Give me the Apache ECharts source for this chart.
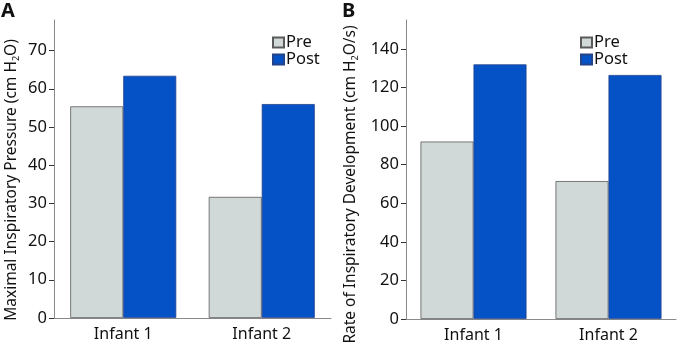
<!DOCTYPE html>
<html>
<head>
<meta charset="utf-8">
<script src="https://cdn.jsdelivr.net/npm/echarts@6/dist/echarts.min.js"></script>
<style>
  html, body { margin: 0; padding: 0; background: #fff; }
  #chart { width: 682px; height: 346px; }
</style>
</head>
<body>
<div id="chart"></div>
<script>
// data
const infants = ['Infant 1', 'Infant 2'];
const pressurePre = [55.4, 31.7];
const pressurePost = [63.4, 56.0];
const ratePre = [92, 71.5];
const ratePost = [132, 126.5];
const pressureTicks = [0, 10, 20, 30, 40, 50, 60, 70];
const rateTicks = [0, 20, 40, 60, 80, 100, 120, 140];

const FONT = 'Noto Sans';
const preColor = '#d0d8d8';
const postColor = '#0452c6';
const axisGrey = '#8a8a8a';

function xAxisFor(gridIndex) {
    return {
        type: 'category',
        gridIndex: gridIndex,
        data: infants,
        axisLine: {lineStyle: {color: axisGrey, width: 1}},
        axisTick: {alignWithLabel: true, length: 8, lineStyle: {color: '#333'}},
        axisLabel: {color: '#111', fontSize: 16, fontFamily: FONT, margin: 8}
    };
}

function yAxisFor(gridIndex, max, interval, ticks, name, gap, pad) {
    return {
        type: 'value',
        gridIndex: gridIndex,
        min: 0,
        max: max,
        interval: interval,
        name: name,
        nameLocation: 'middle',
        nameGap: gap,
        nameMoveOverlap: false,
        nameTextStyle: {
            fontSize: 15.5, fontFamily: FONT, color: '#111', lineHeight: 18,
            padding: [0, pad, 0, 0],
            rich: {sub: {fontSize: 9, fontFamily: FONT, color: '#111', lineHeight: 12, verticalAlign: 'bottom'}}
        },
        splitLine: {show: false},
        axisLine: {show: true, lineStyle: {color: axisGrey, width: 1}},
        axisTick: {show: true, length: 5, customValues: ticks, lineStyle: {color: '#333'}},
        axisLabel: {fontSize: 16.5, fontFamily: FONT, color: '#111', margin: 7, customValues: ticks}
    };
}

function barSeries(name, data, axisIndex, color, border) {
    return {
        name: name,
        type: 'bar',
        xAxisIndex: axisIndex,
        yAxisIndex: axisIndex,
        data: data,
        barWidth: 53,
        barGap: '0%',
        itemStyle: {color: color, borderColor: border, borderWidth: 0.8},
        emphasis: {disabled: true}
    };
}

function legendAt(left) {
    return {
        orient: 'vertical',
        left: left,
        top: 34,
        itemWidth: 11,
        itemHeight: 10,
        itemGap: 0,
        padding: 0,
        icon: 'rect',
        selectedMode: false,
        textStyle: {fontSize: 16.5, fontFamily: FONT, color: '#111', lineHeight: 14, padding: [0, 0, 0, -3]},
        data: ['Pre', 'Post']
    };
}

const chart = echarts.init(document.getElementById('chart'));
chart.setOption({
    animation: false,
    title: [
        {text: 'A', left: 1, top: 1, padding: 0, textStyle: {fontSize: 20, fontWeight: 'bold', fontFamily: FONT, color: '#111'}},
        {text: 'B', left: 342, top: 1, padding: 0, textStyle: {fontSize: 20, fontWeight: 'bold', fontFamily: FONT, color: '#111'}}
    ],
    legend: [legendAt(272), legendAt(580)],
    grid: [
        {left: 54, top: 20, width: 277, height: 298, outerBoundsMode: 'none'},
        {left: 406, top: 20, width: 270, height: 299, outerBoundsMode: 'none'}
    ],
    xAxis: [xAxisFor(0), xAxisFor(1)],
    yAxis: [
        yAxisFor(0, 78, 10, pressureTicks, 'Maximal Inspiratory Pressure (cm H{sub|2}O)', 33, 22),
        yAxisFor(1, 155, 20, rateTicks, 'Rate of Inspiratory Development (cm H{sub|2}O/s)', 46, 30)
    ],
    series: [
        barSeries('Pre', pressurePre, 0, preColor, '#5a5a5a'),
        barSeries('Post', pressurePost, 0, postColor, '#23438a'),
        barSeries('Pre', ratePre, 1, preColor, '#5a5a5a'),
        barSeries('Post', ratePost, 1, postColor, '#23438a')
    ]
});
</script>
</body>
</html>
